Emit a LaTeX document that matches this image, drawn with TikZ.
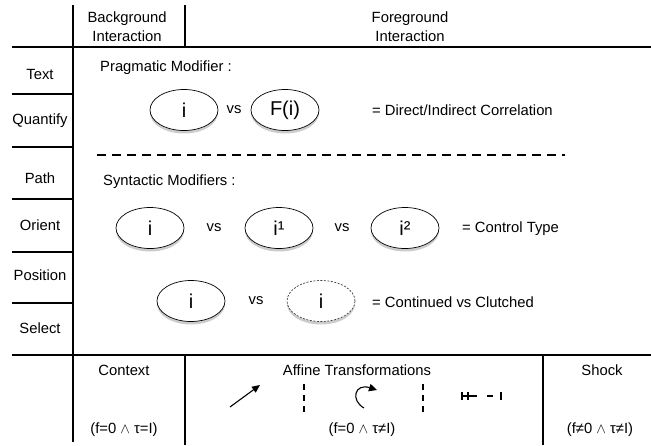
\documentclass[tikz,border=0pt]{standalone}
\usepackage{fontspec}
\setmainfont{Liberation Sans}
\usetikzlibrary{shadows,shapes.geometric,arrows.meta}
\begin{document}
\begin{tikzpicture}[x=1pt,y=-1pt,
  rule/.style={line width=1.1pt},
  lbl/.style={font=\fontsize{14.8}{19}\selectfont, inner sep=0pt, align=center},
  oval/.style={ellipse, draw, line width=0.7pt, minimum width=68pt, minimum height=41pt,
     inner sep=0pt, fill=white, font=\fontsize{20}{24}\selectfont,
     drop shadow={shadow xshift=0pt, shadow yshift=-3pt, opacity=0.4}},
  dashoval/.style={oval, dash pattern=on 2pt off 1.5pt, draw=black!75},
  icon/.style={line width=1.1pt}
]
\useasboundingbox (0,0) rectangle (651,445);
% frame
\draw[rule] (12,47) -- (651,47);
\draw[rule] (12,355) -- (651,355);
\draw[rule] (73,5) -- (73,442);
\draw[rule] (185,5) -- (185,47);
\draw[rule] (185,355) -- (185,445);
\draw[rule] (543,355) -- (543,445);
\foreach \yy in {94,147,199,252,303} \draw[rule] (12,\yy) -- (73,\yy);
% header
\node[lbl] (bg) at (127,27) {Background\\Interaction};
\node[lbl] (fg) at (410,27) {Foreground\\Interaction};
% left labels
\node[lbl] (t1) at (40,74) {Text};
\node[lbl] (t2) at (40,121) {Quantify};
\node[lbl] (t3) at (40,178) {Path};
\node[lbl] (t4) at (40,225) {Orient};
\node[lbl] (t5) at (40,275) {Position};
\node[lbl] (t6) at (40,328) {Select};
% pragmatic
\node[lbl, anchor=west] (pm) at (100,68) {Pragmatic Modifier :};
\node[oval] (e1) at (184,110) {i};
\node[lbl] (vs1) at (234,110) {vs};
\node[oval] (e2) at (285,110) {F(i)};
\node[lbl, anchor=west] (r1) at (372,110) {= Direct/Indirect Correlation};
\draw[rule, dash pattern=on 9pt off 6pt] (97,155) -- (565,155);
% syntactic
\node[lbl, anchor=west] (sm) at (103,182) {Syntactic Modifiers :};
\node[oval] (e3) at (150,228) {i};
\node[lbl] (vs2) at (214,228) {vs};
\node[oval] (e4) at (279,228) {i¹};
\node[lbl] (vs3) at (342,228) {vs};
\node[oval] (e5) at (405,228) {i²};
\node[lbl, anchor=west] (r2) at (462,229) {= Control Type};
\node[oval] (e6) at (191,301) {i};
\node[lbl] (vs4) at (256,301) {vs};
\node[dashoval] (e7) at (321,301) {i};
\node[lbl, anchor=west] (r3) at (372,302) {= Continued vs Clutched};
% bottom row
\node[lbl] (ctx) at (124,370) {Context};
\node[lbl] (ctxf) at (124,430) {(f=0 $\wedge$ τ=I)};
\node[lbl] (aff) at (357,370) {Affine Transformations};
\node[lbl] (afff) at (362,430) {(f=0 $\wedge$ τ≠I)};
\node[lbl] (sh) at (602,370) {Shock};
\node[lbl] (shf) at (600,430) {(f≠0 $\wedge$ τ≠I)};
% icons
\draw[icon, -{Triangle[length=8pt,width=7pt]}] (230,407) -- (260,385);
\draw[icon, dash pattern=on 6pt off 5pt] (304,384) -- (304,416);
\draw[icon, dash pattern=on 6pt off 5pt] (423,384) -- (423,416);
\draw[icon, -{Triangle[length=8pt,width=7.5pt]}] (364,408) .. controls (350,400) and (355,383) .. (377,390);
\draw[icon] (462,392) -- (462,400) (468,392) -- (468,400) (462,396) -- (477,396)
            (487,396) -- (493,396) (501,392) -- (501,400);
\end{tikzpicture}
\end{document}
